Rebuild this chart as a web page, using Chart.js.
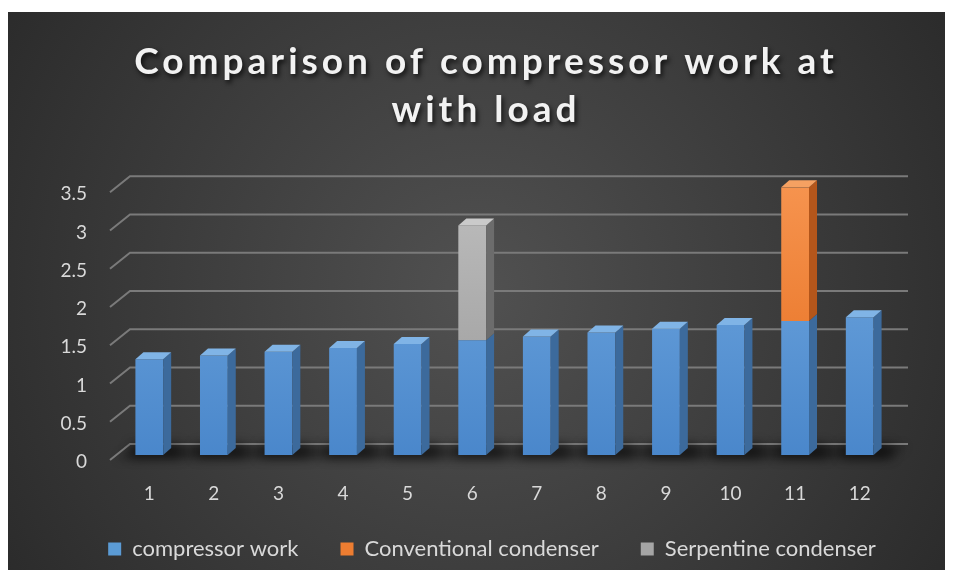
<!DOCTYPE html>
<html><head><meta charset="utf-8">
<script src="https://cdn.jsdelivr.net/npm/chart.js@4/dist/chart.umd.min.js"></script>
<style>
html,body{margin:0;padding:0;background:#fff;width:957px;height:579px;overflow:hidden}
#c{position:absolute;left:8px;top:12px}
</style></head><body>
<canvas id="c" width="937" height="558"></canvas>
<script>
const categories = ['1','2','3','4','5','6','7','8','9','10','11','12'];
const seriesNames = ['compressor work','Conventional condenser','Serpentine condenser'];
const compressorWork = [1.25,1.3,1.35,1.4,1.45,1.5,1.55,1.6,1.65,1.7,1.75,1.8];
const conventionalCondenser = [null,null,null,null,null,null,null,null,null,null,1.75,null];
const serpentineCondenser = [null,null,null,null,null,1.5,null,null,null,null,null,null];
const yTicks = [0,0.5,1,1.5,2,2.5,3,3.5];
const yTickLabels = ['0','0.5','1','1.5','2','2.5','3','3.5'];
const titleLines = ['Comparison of compressor work at','with load'];

const FONT = 'Lato';
const palette = [
  {top:'#72a9e0', bottom:'#4a87cb', side:'#3c6a9c', cap:'#80b4e6', legend:'#5b9bd5'},
  {top:'#f6934e', bottom:'#e46c1c', side:'#b4561b', cap:'#f5a162', legend:'#ed7d31'},
  {top:'#bdbdbd', bottom:'#999999', side:'#6c6c6c', cap:'#cacaca', legend:'#a5a5a5'}
];
const DX = 8, DY = 7;
const LEGEND_SHIFT_Y = 7, LEGEND_SHIFT_X = 6;

function grad(i){
  return (ctx) => {
    const ch = ctx.chart, a = ch.chartArea;
    if (!a) return palette[i].legend;
    const g = ch.ctx.createLinearGradient(0, a.top, 0, a.bottom);
    g.addColorStop(0, palette[i].top);
    g.addColorStop(1, palette[i].bottom);
    return g;
  };
}

const bgPlugin = {
  id: 'bg',
  beforeDraw(chart){
    const {ctx, width, height} = chart;
    ctx.save();
    const g = ctx.createRadialGradient(width*0.5, height*0.5, 0, width*0.5, height*0.5, width*0.62);
    g.addColorStop(0, '#515151');
    g.addColorStop(1, '#292929');
    ctx.fillStyle = g;
    ctx.fillRect(0, 0, width, height);
    ctx.restore();
  },
  afterLayout(chart){
    const tb = chart.titleBlock;
    if (tb && !tb._shadowed){
      const orig = tb.draw.bind(tb);
      tb.draw = function(area){
        const c = this.ctx;
        c.save();
        c.letterSpacing = '4px';
        c.shadowColor = 'rgba(0,0,0,0.75)';
        c.shadowBlur = 5; c.shadowOffsetX = 2; c.shadowOffsetY = 3;
        orig(area);
        c.restore();
      };
      tb._shadowed = true;
    }
    const lg = chart.legend;
    if (lg){
      lg.top -= LEGEND_SHIFT_Y; lg.bottom -= LEGEND_SHIFT_Y;
      lg.left += LEGEND_SHIFT_X; lg.right += LEGEND_SHIFT_X;
    }
  }
};

const threeD = {
  id: 'threeD',
  beforeDatasetsDraw(chart){
    const ctx = chart.ctx, y = chart.scales.y, a = chart.chartArea;
    ctx.save();
    const y0 = y.getPixelForValue(0);
    ctx.filter = 'blur(5px)';
    ctx.fillStyle = 'rgba(0,0,0,0.35)';
    ctx.beginPath();
    ctx.moveTo(a.left, y0 + 4);
    ctx.lineTo(a.left + 18, y0 - 9);
    ctx.lineTo(a.right + 14, y0 - 9);
    ctx.lineTo(a.right - 4, y0 + 4);
    ctx.closePath();
    ctx.fill();
    ctx.filter = 'none';
    ctx.strokeStyle = '#7a7a7a';
    ctx.lineWidth = 2;
    yTicks.forEach(v => {
      const py = y.getPixelForValue(v);
      ctx.beginPath();
      ctx.moveTo(a.left - 7, py + 5);
      ctx.lineTo(a.left + 13, py - 11);
      ctx.lineTo(a.right + 16, py - 11);
      ctx.stroke();
    });
    const meta = chart.getDatasetMeta(0);
    ctx.filter = 'blur(6px)';
    ctx.fillStyle = 'rgba(0,0,0,0.55)';
    meta.data.forEach(bar => {
      const p = bar.getProps(['x','base','width'], true);
      ctx.fillRect(p.x - p.width/2 - 4, p.base - 10, p.width + DX + 14, 12);
    });
    ctx.filter = 'none';
    ctx.restore();
  },
  afterDatasetsDraw(chart){
    const ctx = chart.ctx;
    const n = chart.data.datasets.length;
    ctx.save();
    for (let i = 0; i < n; i++){
      const meta = chart.getDatasetMeta(i);
      const data = chart.data.datasets[i].data;
      meta.data.forEach((bar, j) => {
        if (data[j] === null || data[j] === undefined) return;
        const p = bar.getProps(['x','y','base','width'], true);
        const l = p.x - p.width/2, r = p.x + p.width/2;
        ctx.fillStyle = palette[i].side;
        ctx.beginPath();
        ctx.moveTo(r, p.y);
        ctx.lineTo(r + DX, p.y - DY);
        ctx.lineTo(r + DX, p.base - DY);
        ctx.lineTo(r, p.base);
        ctx.closePath();
        ctx.fill();
        let topmost = true;
        for (let k = i + 1; k < n; k++){
          const v = chart.data.datasets[k].data[j];
          if (v !== null && v !== undefined) topmost = false;
        }
        if (topmost){
          ctx.fillStyle = palette[i].cap;
          ctx.beginPath();
          ctx.moveTo(l, p.y);
          ctx.lineTo(l + DX, p.y - DY);
          ctx.lineTo(r + DX, p.y - DY);
          ctx.lineTo(r, p.y);
          ctx.closePath();
          ctx.fill();
        }
      });
    }
    ctx.restore();
  }
};

const seriesValues = [compressorWork, conventionalCondenser, serpentineCondenser];
const datasets = seriesValues.map((vals, i) => ({
  label: seriesNames[i],
  data: vals,
  backgroundColor: grad(i),
  borderWidth: 0,
  categoryPercentage: 1,
  barPercentage: 0.43,
  stack: 's'
}));

new Chart(document.getElementById('c'), {
  type: 'bar',
  data: {labels: categories, datasets},
  plugins: [bgPlugin, threeD],
  options: {
    responsive: false,
    devicePixelRatio: 1,
    animation: false,
    layout: {padding: {left: 19, right: 0, top: 0, bottom: 0}},
    plugins: {
      tooltip: {enabled: false},
      title: {
        display: true,
        text: titleLines,
        color: '#f2f2f2',
        font: {family: FONT, size: 37, weight: 'bold', lineHeight: 1.3},
        padding: {top: 26, bottom: 53}
      },
      legend: {
        position: 'bottom',
        maxHeight: 67,
        labels: {
          color: '#d9d9d9',
          font: {family: FONT, size: 22},
          boxWidth: 13, boxHeight: 13,
          padding: 42,
          generateLabels(chart){
            return chart.data.datasets.map((d, i) => ({
              text: d.label, fillStyle: palette[i].legend, strokeStyle: 'rgba(0,0,0,0)',
              lineWidth: 0, hidden: false, datasetIndex: i, fontColor: '#d9d9d9'
            }));
          }
        }
      }
    },
    scales: {
      x: {
        stacked: true,
        grid: {display: false, drawTicks: false},
        border: {display: false},
        afterFit(scale){ scale.height = 48; },
        ticks: {color: '#d9d9d9', font: {family: FONT, size: 19}, padding: 27}
      },
      y: {
        stacked: true,
        min: 0, max: 3.5,
        afterBuildTicks(scale){ scale.ticks = yTicks.map(v => ({value: v})); },
        afterFit(scale){ scale.width = 90; },
        grid: {display: false, drawTicks: false},
        border: {display: false},
        ticks: {
          color: '#d9d9d9', font: {family: FONT, size: 19}, padding: 30, labelOffset: 7,
          callback(v, idx){ return yTickLabels[idx]; }
        }
      },
      yR: {
        position: 'right',
        min: 0, max: 1,
        afterFit(scale){ scale.width = 53; },
        grid: {display: false, drawTicks: false},
        border: {display: false},
        ticks: {display: false}
      }
    }
  }
});
</script>
</body></html>
